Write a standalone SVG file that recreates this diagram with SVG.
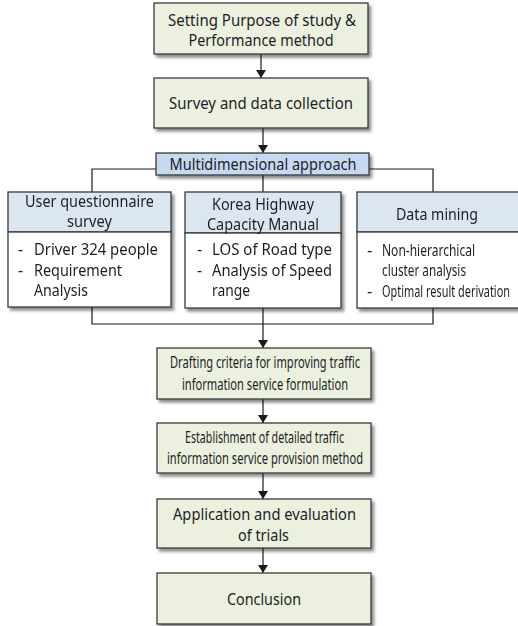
<svg xmlns="http://www.w3.org/2000/svg" width="518" height="626" viewBox="0 0 518 626">
<defs>
<filter id="sh" x="-10%" y="-10%" width="130%" height="140%">
<feDropShadow dx="2.5" dy="3" stdDeviation="1.5" flood-color="#000" flood-opacity="0.45"/>
</filter>
<marker id="arr" viewBox="0 0 8 10" refX="8" refY="5" markerWidth="8" markerHeight="10" markerUnits="userSpaceOnUse" orient="auto">
<path d="M0,0 L8,5 L0,10 z" fill="#1a1a1a"/>
</marker>
</defs>
<style>
.box{fill:#ebf1de;stroke:#3a3a3a;stroke-width:1.3;filter:url(#sh)}
.hdr{fill:#dce6f1;stroke:#3a3a3a;stroke-width:1.3}
.body{fill:#ffffff;stroke:#3a3a3a;stroke-width:1.3}
.md{fill:#c6d9f1;stroke:#3a3a3a;stroke-width:1.3;filter:url(#sh)}
text{font-family:"Noto Sans","Open Sans","DejaVu Sans",sans-serif;font-size:16px;fill:#1e1e28}
.s{font-size:16.5px}
.c{text-anchor:middle}
.ln{fill:none;stroke:#1a1a1a;stroke-width:1.2}
</style>

<g id="connectors">
<line class="ln" x1="261" y1="54" x2="261" y2="78" marker-end="url(#arr)"/>
<line class="ln" x1="263" y1="128" x2="263" y2="153" marker-end="url(#arr)"/>
<polyline class="ln" points="156,169 92,169 92,192"/>
<polyline class="ln" points="369,169 433,169 433,192"/>
<line class="ln" x1="263" y1="175" x2="263" y2="192"/>
<polyline class="ln" points="92,307 92,324 433,324 433,308"/>
<line class="ln" x1="263" y1="308" x2="263" y2="348" marker-end="url(#arr)"/>
<line class="ln" x1="263" y1="399" x2="263" y2="423" marker-end="url(#arr)"/>
<line class="ln" x1="263" y1="473" x2="263" y2="499" marker-end="url(#arr)"/>
<line class="ln" x1="263" y1="548" x2="263" y2="573" marker-end="url(#arr)"/>
</g>

<g id="purpose">
<rect class="box" x="154" y="3" width="214" height="51"/>
<text x="262" y="26" class="c" textLength="188" lengthAdjust="spacingAndGlyphs">Setting Purpose of study &amp;</text>
<text x="261" y="46" class="c" textLength="145" lengthAdjust="spacingAndGlyphs">Performance method</text>
</g>

<g id="survey">
<rect class="box" x="154" y="78" width="214" height="50"/>
<text x="261" y="109" class="c" textLength="184" lengthAdjust="spacingAndGlyphs">Survey and data collection</text>
</g>

<g id="multidimensional">
<rect class="md" x="156" y="153" width="213" height="22"/>
<text x="263" y="170" class="c" textLength="187" lengthAdjust="spacingAndGlyphs">Multidimensional approach</text>
</g>

<g id="user-questionnaire" filter="url(#sh)">
<rect class="hdr" x="8" y="192" width="163" height="40"/>
<rect class="body" x="8" y="232" width="163" height="75"/>
<text x="89.5" y="207" class="c" textLength="129" lengthAdjust="spacingAndGlyphs">User questionnaire</text>
<text x="89.5" y="227" class="c" textLength="45" lengthAdjust="spacingAndGlyphs">survey</text>
<text x="18" y="255">-</text>
<text x="34" y="255" textLength="124" lengthAdjust="spacingAndGlyphs">Driver 324 people</text>
<text x="18" y="276">-</text>
<text x="34" y="276" textLength="88" lengthAdjust="spacingAndGlyphs">Requirement</text>
<text x="34" y="296" textLength="54" lengthAdjust="spacingAndGlyphs">Analysis</text>
</g>

<g id="khcm" filter="url(#sh)">
<rect class="hdr" x="185" y="192" width="156" height="41"/>
<rect class="body" x="185" y="233" width="156" height="75"/>
<text x="263" y="210" class="c" textLength="102" lengthAdjust="spacingAndGlyphs">Korea Highway</text>
<text x="263" y="230" class="c" textLength="112" lengthAdjust="spacingAndGlyphs">Capacity Manual</text>
<text x="197" y="255">-</text>
<text x="212" y="255" textLength="120" lengthAdjust="spacingAndGlyphs">LOS of Road type</text>
<text x="197" y="276">-</text>
<text x="212" y="276" textLength="120" lengthAdjust="spacingAndGlyphs">Analysis of Speed</text>
<text x="212" y="296" textLength="38" lengthAdjust="spacingAndGlyphs">range</text>
</g>

<g id="data-mining" filter="url(#sh)">
<rect class="hdr" x="357" y="192" width="175" height="40"/>
<rect class="body" x="357" y="232" width="175" height="76"/>
<text x="437" y="220" class="c" textLength="82" lengthAdjust="spacingAndGlyphs">Data mining</text>
<text x="367" y="256" class="s">-</text>
<text x="382" y="256" class="s" textLength="93" lengthAdjust="spacingAndGlyphs">Non-hierarchical</text>
<text x="382" y="276" class="s" textLength="84" lengthAdjust="spacingAndGlyphs">cluster analysis</text>
<text x="367" y="297" class="s">-</text>
<text x="382" y="297" class="s" textLength="128" lengthAdjust="spacingAndGlyphs">Optimal result derivation</text>
</g>

<g id="drafting">
<rect class="box" x="157" y="348" width="214" height="51"/>
<text x="265" y="368" class="c s" textLength="190" lengthAdjust="spacingAndGlyphs">Drafting  criteria for improving  traffic</text>
<text x="265" y="390" class="c s" textLength="166" lengthAdjust="spacingAndGlyphs">information  service formulation</text>
</g>

<g id="establishment">
<rect class="box" x="157" y="423" width="214" height="50"/>
<text x="264.5" y="443" class="c s" textLength="159" lengthAdjust="spacingAndGlyphs">Establishment of detailed traffic</text>
<text x="265" y="464" class="c s" textLength="196" lengthAdjust="spacingAndGlyphs">information service provision method</text>
</g>

<g id="application">
<rect class="box" x="157" y="499" width="214" height="49"/>
<text x="264.5" y="520" class="c" textLength="183" lengthAdjust="spacingAndGlyphs">Application and  evaluation</text>
<text x="263.5" y="541" class="c" textLength="51" lengthAdjust="spacingAndGlyphs">of trials</text>
</g>

<g id="conclusion">
<rect class="box" x="157" y="573" width="214" height="51"/>
<text x="264" y="605" class="c" textLength="74" lengthAdjust="spacingAndGlyphs">Conclusion</text>
</g>
</svg>
